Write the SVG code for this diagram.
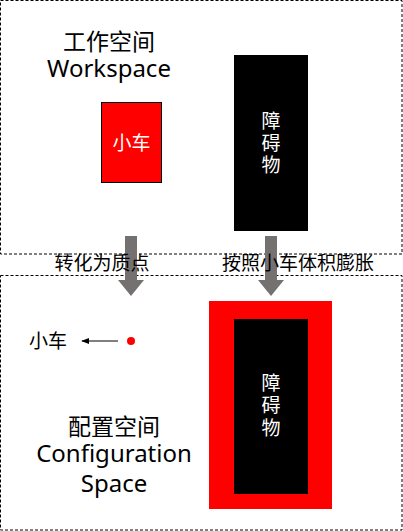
<svg xmlns="http://www.w3.org/2000/svg" width="403" height="531" viewBox="0 0 403 531">
<style>
.t{font-family:"Noto Sans","Noto Sans CJK SC",sans-serif;fill:#000;text-anchor:middle}
.w{fill:#fff}
.region{fill:none;stroke:#000;stroke-width:1;stroke-dasharray:3,2}
.big{font-size:23px}
.lat{font-size:24px}
.mid{font-size:19px}
.blk{fill:#767171}
</style>
<defs>
<marker id="ah" viewBox="0 0 10 10" refX="9" refY="5" markerWidth="8" markerHeight="8" orient="auto-start-reverse" markerUnits="userSpaceOnUse">
<path d="M0,1 L10,5 L0,9 Z" fill="#000"/>
</marker>
</defs>
<rect width="403" height="531" fill="#fff"/>
<g id="workspace">
<rect class="region" x="0.5" y="0.5" width="401.5" height="253.5"/>
<text class="t big" x="109" y="50">工作空间</text>
<text class="t lat" x="109" y="77">Workspace</text>
</g>
<g id="configspace">
<rect class="region" x="0.5" y="275.5" width="401.5" height="254.5"/>
<text class="t big" x="114" y="435">配置空间</text>
<text class="t lat" x="114" y="462">Configuration</text>
<text class="t lat" x="114" y="492">Space</text>
</g>
<g id="car">
<rect x="101.5" y="102.5" width="60" height="80" fill="#f00" stroke="#000" stroke-width="1"/>
<text class="t w mid" x="131.5" y="150">小车</text>
</g>
<g id="obstacle">
<rect x="234" y="55" width="74" height="176" fill="#000"/>
<text class="t w mid" x="271" y="128">障</text>
<text class="t w mid" x="271" y="150">碍</text>
<text class="t w mid" x="271" y="172">物</text>
</g>
<g id="point">
<circle cx="131" cy="341" r="4" fill="#f00"/>
<text class="t mid" x="48" y="348">小车</text>
</g>
<g id="inflated-obstacle">
<rect x="209" y="301" width="123" height="208" fill="#f00"/>
<rect x="234" y="319" width="74" height="175" fill="#000"/>
<text class="t w mid" x="271" y="390">障</text>
<text class="t w mid" x="271" y="412">碍</text>
<text class="t w mid" x="271" y="435">物</text>
</g>
<g id="connectors">
<path class="blk" d="M125,236 H137 V280 H144 L131,296 L118,280 H125 Z"/>
<path class="blk" d="M265,236 H277 V280 H284 L271,296 L258,280 H265 Z"/>
<text class="t mid" x="102" y="270">转化为质点</text>
<text class="t mid" x="298" y="270">按照小车体积膨胀</text>
<line x1="118" y1="341" x2="82" y2="341" stroke="#000" stroke-width="1" marker-end="url(#ah)"/>
</g>
</svg>
